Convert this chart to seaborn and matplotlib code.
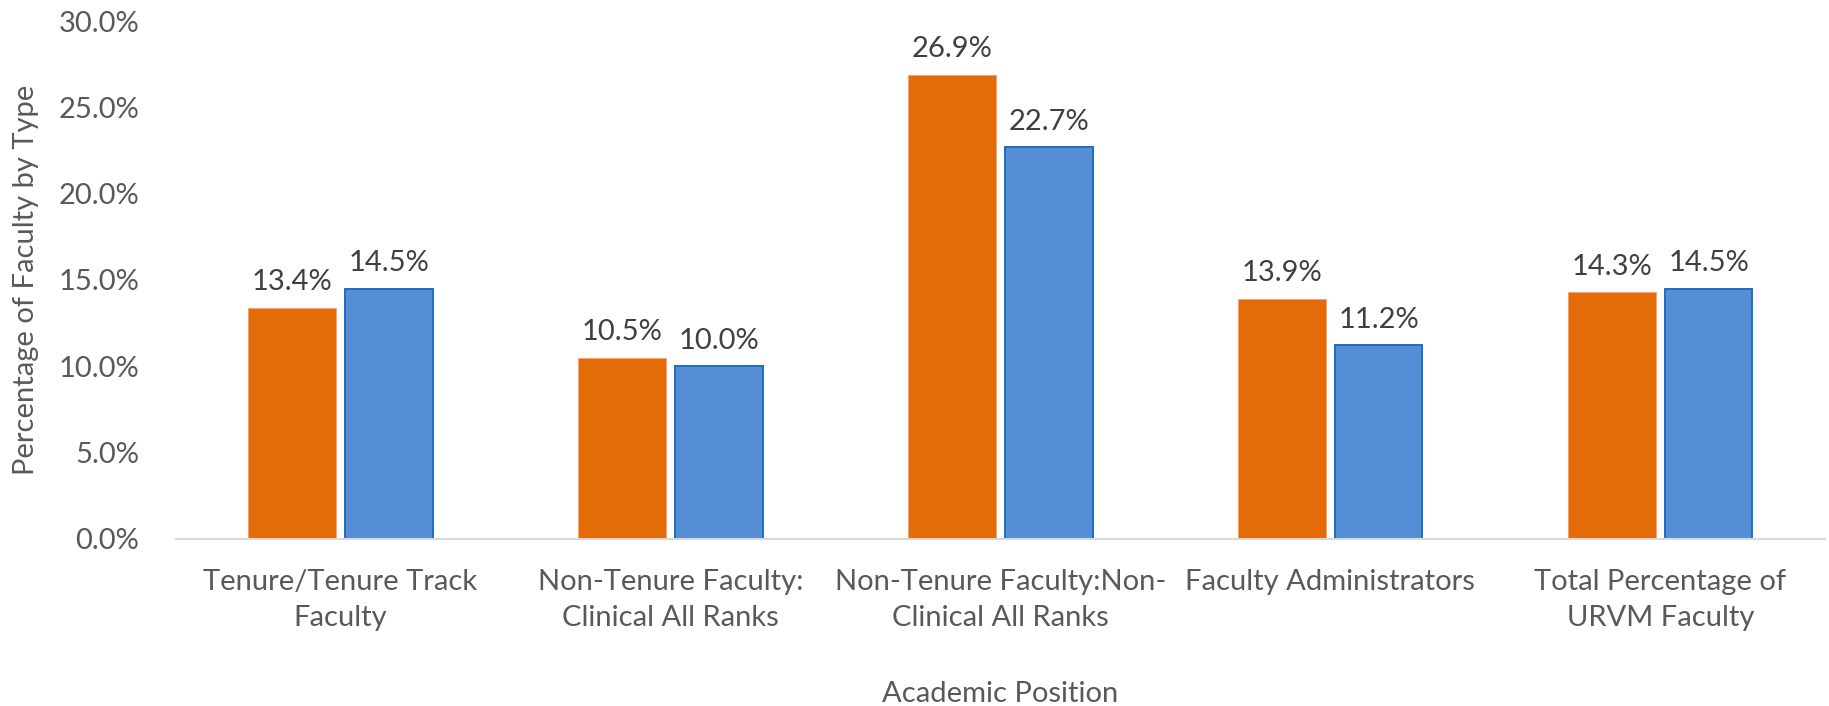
import matplotlib
matplotlib.use("Agg")
import matplotlib.pyplot as plt
import seaborn as sns
import pandas as pd
from matplotlib.ticker import PercentFormatter

# Data
categories = [
    "Tenure/Tenure Track\nFaculty",
    "Non-Tenure Faculty:\nClinical All Ranks",
    "Non-Tenure Faculty:Non-\nClinical All Ranks",
    "Faculty Administrators",
    "Total Percentage of\nURVM Faculty",
]
series_names = ["Series 1", "Series 2"]
series_1 = [13.4, 10.5, 26.9, 13.9, 14.3]
series_2 = [14.5, 10.0, 22.7, 11.2, 14.5]

df = pd.DataFrame({
    "Position": categories * 2,
    "Series": [series_names[0]] * len(categories) + [series_names[1]] * len(categories),
    "Value": series_1 + series_2,
})

sns.set_theme(style="white")
plt.rcParams["font.family"] = ["Lato", "DejaVu Sans"]
text_color = "#595959"
fs = 21

fig, ax = plt.subplots(figsize=(18.29, 7.06), dpi=100)
fig.subplots_adjust(left=0.096, right=0.998, bottom=0.237, top=0.970)

sns.barplot(data=df, x="Position", y="Value", hue="Series",
            palette=["#E36C09", "#558ED5"], saturation=1,
            width=0.586, gap=0.095, legend=False, ax=ax)

# edges like the original
for i, cont in enumerate(ax.containers):
    for bar in cont:
        if i == 0:
            bar.set_edgecolor("#F2A374")
            bar.set_linewidth(0.6)
        else:
            bar.set_edgecolor("#1C6EC0")
            bar.set_linewidth(1.4)
    ax.bar_label(cont, labels=[f"{v:.1f}%" for v in cont.datavalues],
                 padding=9, fontsize=fs, color="#404040")

ax.set_ylim(0, 30)
ax.set_yticks([0, 5, 10, 15, 20, 25, 30])
ax.yaxis.set_major_formatter(PercentFormatter(decimals=1))
ax.set_xlim(-0.5, 4.5)

ax.tick_params(axis="y", labelsize=fs, colors=text_color, length=0, pad=26)
ax.tick_params(axis="x", labelsize=fs, colors=text_color, length=0, pad=22)
for lbl in ax.get_xticklabels():
    lbl.set_linespacing(1.45)

ax.set_ylabel("Percentage of Faculty by Type", fontsize=fs, color=text_color, labelpad=14)
ax.set_xlabel("Academic Position", fontsize=fs, color=text_color, labelpad=36)

for s in ["top", "right", "left"]:
    ax.spines[s].set_visible(False)
ax.spines["bottom"].set_color("#D9D9D9")
ax.spines["bottom"].set_linewidth(1.5)

fig.savefig("out.png", dpi=100)
